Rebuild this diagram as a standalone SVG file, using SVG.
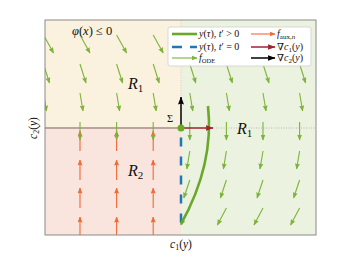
<svg xmlns="http://www.w3.org/2000/svg" width="351" height="264" viewBox="0 0 351 264">
<style>
.m{font-family:"Liberation Serif","DejaVu Serif",serif;fill:#111}
.i{font-style:italic}
.g{stroke:#7db338;stroke-width:1.1;fill:none;marker-end:url(#hg)}
.o{stroke:#ef6a35;stroke-width:1.1;fill:none;marker-end:url(#ho)}
</style>
<defs>
<clipPath id="fr"><rect x="45" y="20" width="271" height="215"/></clipPath>
<marker id="hg" markerUnits="userSpaceOnUse" markerWidth="6" markerHeight="5" viewBox="0 0 6 5" refX="5.5" refY="2.5" orient="auto"><path d="M0,0 L6,2.5 L0,5 L0.7,2.5 z" fill="#7db338"/></marker>
<marker id="ho" markerUnits="userSpaceOnUse" markerWidth="6" markerHeight="5" viewBox="0 0 6 5" refX="5.5" refY="2.5" orient="auto"><path d="M0,0 L6,2.5 L0,5 L0.7,2.5 z" fill="#ef6a35"/></marker>
<marker id="hr" markerUnits="userSpaceOnUse" markerWidth="8" markerHeight="6" viewBox="0 0 8 6" refX="7.5" refY="3" orient="auto"><path d="M0,0 L8,3 L0,6 L1,3 z" fill="#a3222f"/></marker>
<marker id="hk" markerUnits="userSpaceOnUse" markerWidth="8" markerHeight="6" viewBox="0 0 8 6" refX="7.5" refY="3" orient="auto"><path d="M0,0 L8,3 L0,6 L1,3 z" fill="#000"/></marker>
</defs>

<g id="regions">
<rect x="45" y="20" width="136" height="108" fill="#faf2df"/>
<rect x="45" y="128" width="136" height="107" fill="#f9e4de"/>
<rect x="181" y="20" width="135" height="215" fill="#ebf2e0"/>
<line x1="181" y1="20" x2="181" y2="128" stroke="#c8c8c8" stroke-width="0.8" stroke-dasharray="1,1.5"/>
<line x1="181" y1="128" x2="316" y2="128" stroke="#b8b8b8" stroke-width="1.2" stroke-dasharray="1,1.5"/>
<line x1="45" y1="128" x2="181" y2="128" stroke="#bba59a" stroke-width="2"/>
</g>

<g id="field" clip-path="url(#fr)">
<g id="faux">
<line class="o" x1="80" y1="151" x2="80" y2="131"/>
<line class="o" x1="116.6" y1="151" x2="116.6" y2="131"/>
<line class="o" x1="153.2" y1="151" x2="153.2" y2="131"/>
<line class="o" x1="80" y1="180" x2="80" y2="160"/>
<line class="o" x1="116.6" y1="180" x2="116.6" y2="160"/>
<line class="o" x1="153.2" y1="180" x2="153.2" y2="160"/>
<line class="o" x1="80" y1="208" x2="80" y2="188"/>
<line class="o" x1="116.6" y1="208" x2="116.6" y2="188"/>
<line class="o" x1="153.2" y1="208" x2="153.2" y2="188"/>
<line class="o" x1="80" y1="237" x2="80" y2="217"/>
<line class="o" x1="116.6" y1="237" x2="116.6" y2="217"/>
<line class="o" x1="153.2" y1="237" x2="153.2" y2="217"/>
</g>
<g id="fode-left">
<line class="g" x1="43.5" y1="35" x2="53.5" y2="53"/>
<line class="g" x1="80" y1="35" x2="90" y2="53"/>
<line class="g" x1="116.6" y1="35" x2="126.6" y2="53"/>
<line class="g" x1="153.2" y1="35" x2="163.2" y2="53"/>
<line class="g" x1="43.5" y1="64" x2="49.5" y2="83"/>
<line class="g" x1="80" y1="64" x2="86" y2="83"/>
<line class="g" x1="116.6" y1="64" x2="122.6" y2="83"/>
<line class="g" x1="153.2" y1="64" x2="159.2" y2="83"/>
<line class="g" x1="43.5" y1="93" x2="46.5" y2="111"/>
<line class="g" x1="80" y1="93" x2="83" y2="111"/>
<line class="g" x1="116.6" y1="93" x2="119.6" y2="111"/>
<line class="g" x1="153.2" y1="93" x2="156.2" y2="111"/>
<line class="g" x1="80" y1="122" x2="80" y2="140"/>
<line class="g" x1="116.6" y1="122" x2="116.6" y2="140"/>
<line class="g" x1="153.2" y1="122" x2="153.2" y2="140"/>
</g>
<g id="fode-right">
<line class="g" x1="189.8" y1="35" x2="199.8" y2="53"/>
<line class="g" x1="226.4" y1="35" x2="236.4" y2="53"/>
<line class="g" x1="263" y1="35" x2="273" y2="53"/>
<line class="g" x1="299.6" y1="35" x2="309.6" y2="53"/>
<line class="g" x1="189.8" y1="64" x2="195.8" y2="83"/>
<line class="g" x1="226.4" y1="64" x2="232.4" y2="83"/>
<line class="g" x1="263" y1="64" x2="269" y2="83"/>
<line class="g" x1="299.6" y1="64" x2="305.6" y2="83"/>
<line class="g" x1="189.8" y1="93" x2="192.8" y2="111"/>
<line class="g" x1="226.4" y1="93" x2="229.4" y2="111"/>
<line class="g" x1="263" y1="93" x2="266" y2="111"/>
<line class="g" x1="299.6" y1="93" x2="302.6" y2="111"/>
<line class="g" x1="189.8" y1="122" x2="189.8" y2="140"/>
<line class="g" x1="226.4" y1="122" x2="226.4" y2="140"/>
<line class="g" x1="263" y1="122" x2="263" y2="140"/>
<line class="g" x1="299.6" y1="122" x2="299.6" y2="140"/>
<line class="g" x1="189.8" y1="151" x2="186.8" y2="169"/>
<line class="g" x1="226.4" y1="151" x2="223.4" y2="169"/>
<line class="g" x1="263" y1="151" x2="260" y2="169"/>
<line class="g" x1="299.6" y1="151" x2="296.6" y2="169"/>
<line class="g" x1="189.8" y1="180" x2="183.8" y2="198"/>
<line class="g" x1="226.4" y1="180" x2="220.4" y2="198"/>
<line class="g" x1="263" y1="180" x2="257" y2="198"/>
<line class="g" x1="299.6" y1="180" x2="293.6" y2="198"/>
<line class="g" x1="189.8" y1="208" x2="180.8" y2="225"/>
<line class="g" x1="226.4" y1="208" x2="217.4" y2="225"/>
<line class="g" x1="263" y1="208" x2="254" y2="225"/>
<line class="g" x1="299.6" y1="208" x2="290.6" y2="225"/>
</g>
</g>

<g id="trajectory">
<line x1="181" y1="128" x2="181" y2="224" stroke="#1f77b4" stroke-width="2.5" stroke-dasharray="9,10" stroke-dashoffset="9.5"/>
<path d="M181,224 Q214.4,164.2 208,106" fill="none" stroke="#6aa829" stroke-width="2.6"/>
</g>

<g id="gradients">
<line x1="181" y1="128" x2="181" y2="97" stroke="#000" stroke-width="1.5" marker-end="url(#hk)"/>
<line x1="181" y1="128" x2="213" y2="128" stroke="#a3222f" stroke-width="1.5" marker-end="url(#hr)"/>
<circle cx="181" cy="128" r="3.5" fill="#6aa829"/>
</g>

<rect id="frame" x="45" y="20" width="271" height="215" fill="none" stroke="#8a8a8a" stroke-width="1"/>

<g id="labels">
<text class="m" x="72" y="35" font-size="12.5"><tspan class="i">φ</tspan>(<tspan class="i">x</tspan>) ≤ 0</text>
<text class="m i" x="128" y="89" font-size="16">R<tspan font-size="11" dy="3" font-style="normal">1</tspan></text>
<text class="m i" x="128" y="176" font-size="16">R<tspan font-size="11" dy="3" font-style="normal">2</tspan></text>
<text class="m i" x="237" y="134" font-size="16">R<tspan font-size="11" dy="3" font-style="normal">1</tspan></text>
<text class="m" x="167" y="122" font-size="10.5">Σ</text>
<text class="m" x="181" y="248" font-size="11.5" text-anchor="middle"><tspan class="i">c</tspan><tspan font-size="8" dy="2">1</tspan><tspan dy="-2">(</tspan><tspan class="i">y</tspan>)</text>
<text class="m" transform="translate(37,128) rotate(-90)" font-size="11.5" text-anchor="middle"><tspan class="i">c</tspan><tspan font-size="8" dy="2">2</tspan><tspan dy="-2">(</tspan><tspan class="i">y</tspan>)</text>
</g>

<g id="legend">
<rect x="168" y="27" width="143" height="39" rx="2" fill="#fff" stroke="#cfcfcf" stroke-width="0.8"/>
<line x1="172" y1="34" x2="197" y2="34" stroke="#6aa829" stroke-width="2.6"/>
<line x1="172" y1="47" x2="197" y2="47" stroke="#1f77b4" stroke-width="2.5" stroke-dasharray="10,8"/>
<line class="g" x1="172" y1="58" x2="197" y2="58"/>
<line class="o" x1="251" y1="34" x2="275" y2="34"/>
<line x1="251" y1="47" x2="275" y2="47" stroke="#a3222f" stroke-width="1.5" marker-end="url(#hr)"/>
<line x1="251" y1="58" x2="275" y2="58" stroke="#000" stroke-width="1.5" marker-end="url(#hk)"/>
<text class="m" x="199" y="37" font-size="10"><tspan class="i">y</tspan>(<tspan class="i">τ</tspan>), <tspan class="i">t</tspan>′ &gt; 0</text>
<text class="m" x="199" y="50" font-size="10"><tspan class="i">y</tspan>(<tspan class="i">τ</tspan>), <tspan class="i">t</tspan>′ = 0</text>
<text class="m" x="199" y="61" font-size="10"><tspan class="i">f</tspan><tspan font-size="6.5" dy="2">ODE</tspan></text>
<text class="m" x="277" y="37" font-size="10"><tspan class="i">f</tspan><tspan font-size="7" dy="2">aux,<tspan class="i">n</tspan></tspan></text>
<text class="m" x="277" y="50" font-size="10">∇<tspan class="i">c</tspan><tspan font-size="7" dy="2">1</tspan><tspan dy="-2">(</tspan><tspan class="i">y</tspan>)</text>
<text class="m" x="277" y="61" font-size="10">∇<tspan class="i">c</tspan><tspan font-size="7" dy="2">2</tspan><tspan dy="-2">(</tspan><tspan class="i">y</tspan>)</text>
</g>
</svg>
